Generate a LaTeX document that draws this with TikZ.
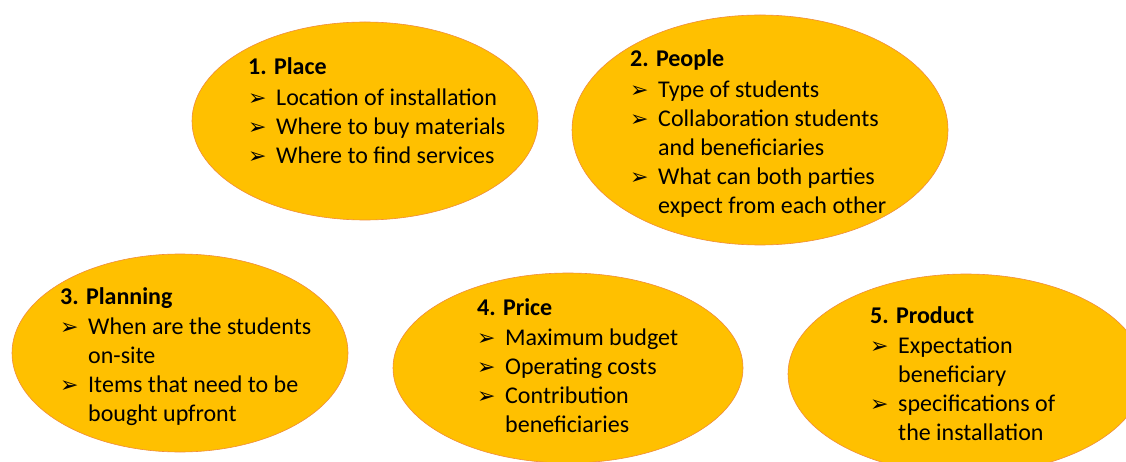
\documentclass[tikz,border=0pt]{standalone}
\usepackage{fontspec}
\usetikzlibrary{shapes.geometric}
\setmainfont{Carlito}
\newfontfamily\dejavu{DejaVu Sans}
\definecolor{blobfill}{RGB}{255,192,0}
\definecolor{blobline}{RGB}{240,140,60}
\newcommand\bul{{\dejavu\fontsize{22}{22}\selectfont ➢}}
\newcommand\ttl[1]{\hbox{\bfseries #1}\kern1.5pt}
\newcommand\itm[1]{\hbox{\makebox[28pt][l]{\bul}#1}}
\newcommand\cnt[1]{\hbox{\hspace*{28pt}#1}}
\newcommand\blk[1]{\vtop{\baselineskip=29pt\lineskiplimit=-\maxdimen #1}}
\begin{document}
\begin{tikzpicture}[x=1pt, y=-1pt, font=\fontsize{24}{29}\selectfont,
    blob/.style={ellipse, fill=blobfill, draw=blobline, line width=0.6pt, inner sep=0pt},
    txt/.style={anchor=base west, inner sep=0pt}]
    \useasboundingbox (0,0) rectangle (1126,462);
    \clip (0,0) rectangle (1126,462);
    % ellipses
    \node[blob, minimum width=346pt, minimum height=198pt] (place) at (365,121) {};
    \node[blob, minimum width=376pt, minimum height=230pt] (people) at (760,130) {};
    \node[blob, minimum width=336pt, minimum height=198pt] (planning) at (180,353) {};
    \node[blob, minimum width=350pt, minimum height=190pt] (price) at (568,368) {};
    \node[blob, minimum width=356pt, minimum height=200pt] (product) at (966,374) {};
    % texts
    \node[txt] (placetxt) at (248,75) {\blk{\ttl{1. Place}
        \itm{Location of installation}
        \itm{Where to buy materials}
        \itm{Where to find services}}};
    \node[txt] (peopletxt) at (630,67) {\blk{\ttl{2. People}
        \itm{Type of students}
        \itm{Collaboration students}
        \cnt{and beneficiaries}
        \itm{What can both parties}
        \cnt{expect from each other}}};
    \node[txt] (planningtxt) at (60,304) {\blk{\ttl{3. Planning}
        \itm{When are the students}
        \cnt{on-site}
        \itm{Items that need to be}
        \cnt{bought upfront}}};
    \node[txt] (pricetxt) at (477,315) {\blk{\ttl{4. Price}
        \itm{Maximum budget}
        \itm{Operating costs}
        \itm{Contribution}
        \cnt{beneficiaries}}};
    \node[txt] (producttxt) at (870,323) {\blk{\ttl{5. Product}
        \itm{Expectation}
        \cnt{beneficiary}
        \itm{specifications of}
        \cnt{the installation}}};
\end{tikzpicture}
\end{document}
